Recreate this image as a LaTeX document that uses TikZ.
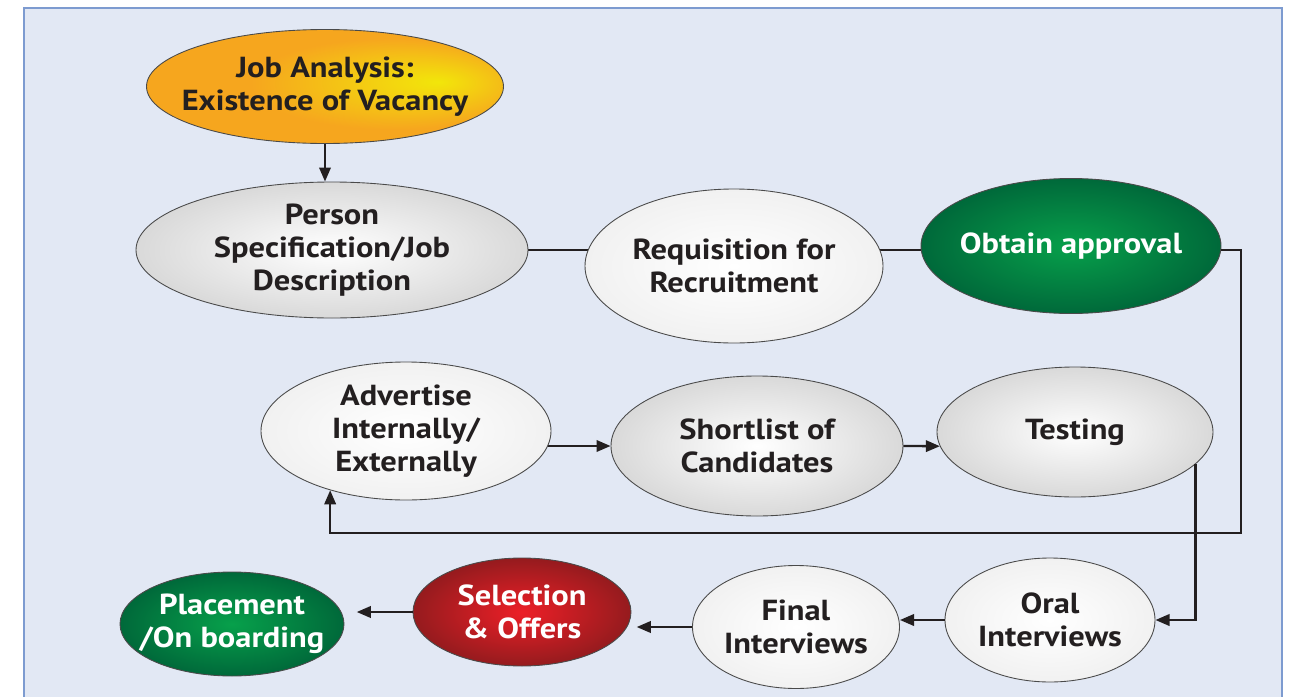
\documentclass[tikz,border=0pt]{standalone}
\usepackage{fontspec}
\setmainfont[FakeStretch=1.12]{PT Sans}
\usetikzlibrary{shapes.geometric,arrows.meta}

\definecolor{pagebg}{HTML}{E2E8F4}
\definecolor{frameblue}{HTML}{7D9BD0}
\definecolor{edgegrey}{HTML}{4A4A4A}
\definecolor{inkdark}{HTML}{231F20}
\definecolor{joborange}{HTML}{F6A61E}
\definecolor{jobyellow}{HTML}{F2E60A}
\definecolor{greenin}{HTML}{07A04B}
\definecolor{greenout}{HTML}{00693A}
\definecolor{redin}{HTML}{EC1F27}
\definecolor{redout}{HTML}{951B1E}
\definecolor{greyout}{HTML}{D9D9D9}
\definecolor{paleout}{HTML}{F1F1F1}

% glow sitting right of the centre
\pgfdeclareradialshading{jobglow}{\pgfpoint{16bp}{2bp}}{%
  color(0bp)=(jobyellow); color(9bp)=(jobyellow!55!joborange);
  color(20bp)=(joborange); color(50bp)=(joborange)}

\pgfdeclarelayer{back}
\pgfdeclarelayer{links}
\pgfsetlayers{back,links,main}

\tikzset{
  stage/.style={ellipse, draw=edgegrey, line width=0.5pt, inner sep=0pt,
    align=center, text=inkdark,
    font=\bfseries\fontsize{16.5}{18.8}\selectfont},
  dims/.style 2 args={minimum width=#1cm, minimum height=#2cm},
  greystage/.style={stage, inner color=white, outer color=greyout},
  palestage/.style={stage, inner color=white, outer color=paleout},
  greenstage/.style={stage, text=white, inner color=greenin, outer color=greenout},
  redstage/.style={stage, text=white, inner color=redin, outer color=redout},
  link/.style={line width=1.3pt, inkdark},
}

\begin{document}
\begin{tikzpicture}[>={Triangle[length=8pt,width=6.5pt]}]
    \useasboundingbox (0,0) rectangle (25.82,-13.94);

    % Tlo i ramka
    \begin{pgfonlayer}{back}
      \fill[pagebg] (0.48,-0.16) rectangle (25.64,-14.3);
      \draw[frameblue, line width=1.3pt] (0.48,-14.3) -- (0.48,-0.16)
          -- (25.64,-0.16) -- (25.64,-14.3);
    \end{pgfonlayer}

    % Etapy - gora
    \node[stage, dims={7.12}{2.28}, inner xsep=-0.34cm, shading=jobglow]
        (job) at (6.50,-1.73) {Job Analysis:\\Existence of Vacancy};
    \node[greystage, dims={7.84}{2.72}] (spec) at (6.64,-5.00)
        {Person\\Specification/Job\\Description};
    \node[palestage, dims={5.96}{3.08}] (req) at (14.68,-5.32)
        {Requisition for\\Recruitment};
    \node[greenstage, dims={6.00}{2.70}, inner xsep=-0.12cm] (appr)
        at (21.42,-4.92) {Obtain approval};

    % Etapy - srodek
    \node[palestage, dims={5.80}{2.76}] (adv) at (8.12,-8.62)
        {Advertise\\Internally/\\Externally};
    \node[greystage, dims={5.84}{2.80}] (short) at (15.14,-8.92)
        {Shortlist of\\Candidates};
    \node[greystage, dims={5.52}{2.60}] (test) at (21.50,-8.64)
        {Testing};

    % Etapy - dol
    \node[palestage, dims={4.20}{2.48}] (oral) at (21.00,-12.40)
        {Oral\\Interviews};
    \node[palestage, dims={4.14}{2.46}] (final) at (15.92,-12.54)
        {Final\\Interviews};
    \node[redstage, dims={4.36}{2.16}] (sel) at (10.44,-12.24)
        {Selection\\\& Offers};
    \node[greenstage, dims={4.48}{2.08}, inner xsep=-0.27cm] (place)
        at (4.64,-12.48) {Placement\\/On boarding};

    % Punkt zalamania petli
    \coordinate (loop) at (24.82,-10.66);

    % Polaczenia
    \draw[link, ->] (job.south) -- (job.south |- spec.north);
    \begin{pgfonlayer}{links}
      \draw[link] (spec.east) -- (req.center |- spec.east);
      \draw[link] (req.center |- spec.east) -- (appr.center |- spec.east);
      \draw[link, ->] (adv.center |- short.west) -- (short.west);
    \end{pgfonlayer}
    \draw[link, ->] (short.east) -- (test.186);

    % Petla do ogloszenia
    \draw[link, ->] (appr.east |- spec.east) -| (loop) -| (adv.218);

    % Testy do rozmow
    \draw[link, ->] (test.-15) |- (oral.east);

    % Dolny rzad
    \draw[link, ->] (oral.west) -- (oral.west -| final.east);
    \draw[link, ->, shorten >=3pt] (final.west) -- (final.west -| sel.east);
    \draw[link, ->, shorten >=7pt] (sel.west) -- (sel.west -| place.east);
\end{tikzpicture}
\end{document}
